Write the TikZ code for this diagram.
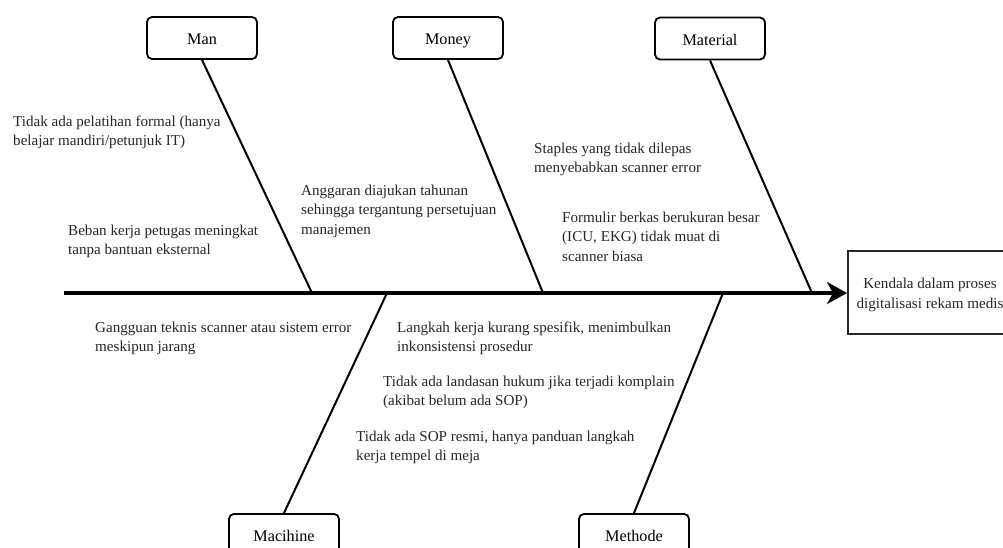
\documentclass[tikz,border=0pt]{standalone}
\usepackage{fontspec}
\setmainfont{Liberation Serif}
\usetikzlibrary{arrows.meta}
\tikzset{
  catbox/.style={draw, line width=1.8pt, rounded corners=5pt, minimum width=110pt, minimum height=42pt, inner sep=0pt, text height=13pt, text depth=0pt, font=\fontsize{16.2}{18}\selectfont},
  bone/.style={line width=2pt},
  cause/.style={anchor=base west, align=left, inner sep=0pt, font=\fontsize{15.1}{19.5}\selectfont, text=black!85},
}
\begin{document}
\begin{tikzpicture}[x=1pt,y=-1pt]
\useasboundingbox (0,0) rectangle (1003,547);
% category boxes
\node[catbox] (man) at (202,38) {Man};
\node[catbox] (money) at (448,38) {Money};
\node[catbox] (material) at (710,38.5) {Material};
\node[catbox, anchor=north] (machine) at (284,513) {Macihine};
\node[catbox, anchor=north] (methode) at (634,513) {Methode};
% effect box
\node[draw, line width=1.8pt, draw=black!85, minimum width=170pt, minimum height=83pt, anchor=north west, inner sep=0pt] (effect) at (847,250) {};
\node[align=center, font=\fontsize{15.1}{20}\selectfont, inner sep=0pt, text=black!85] (effecttext) at (930,295) {Kendala dalam proses\\digitalisasi rekam medis};
% junction coordinates on spine
\coordinate (tail) at (64,293);
\coordinate (jman) at (312,293);
\coordinate (jmoney) at (543,293);
\coordinate (jmat) at (812,293);
\coordinate (jmach) at (387,293);
\coordinate (jmeth) at (723,293);
% spine
\draw[line width=3.6pt, -{Stealth[length=20pt,width=22pt,inset=6pt]}] (tail) -- (effect.west |- tail);
% bones
\draw[bone] (man.south) -- (jman);
\draw[bone] (money.south) -- (jmoney);
\draw[bone] (material.south) -- (jmat);
\draw[bone] (machine.north) -- (jmach);
\draw[bone] (methode.north) -- (jmeth);
% causes (anchor = baseline of last line)
\node[cause] (c1) at (13,145.5) {Tidak ada pelatihan formal (hanya\\belajar mandiri/petunjuk IT)};
\node[cause] (c2) at (68,254.5) {Beban kerja petugas meningkat\\tanpa bantuan eksternal};
\node[cause] (c3) at (301,234) {Anggaran diajukan tahunan\\sehingga tergantung persetujuan\\manajemen};
\node[cause] (c4) at (534,172.5) {Staples yang tidak dilepas\\menyebabkan scanner error};
\node[cause] (c5) at (562,261) {Formulir berkas berukuran besar\\(ICU, EKG) tidak muat di\\scanner biasa};
\node[cause] (c6) at (95,351.5) {Gangguan teknis scanner atau sistem error\\meskipun jarang};
\node[cause] (c7) at (397,351.5) {Langkah kerja kurang spesifik, menimbulkan\\inkonsistensi prosedur};
\node[cause] (c8) at (383,405.5) {Tidak ada landasan hukum jika terjadi komplain\\(akibat belum ada SOP)};
\node[cause] (c9) at (356,460.5) {Tidak ada SOP resmi, hanya panduan langkah\\kerja tempel di meja};
\end{tikzpicture}
\end{document}
